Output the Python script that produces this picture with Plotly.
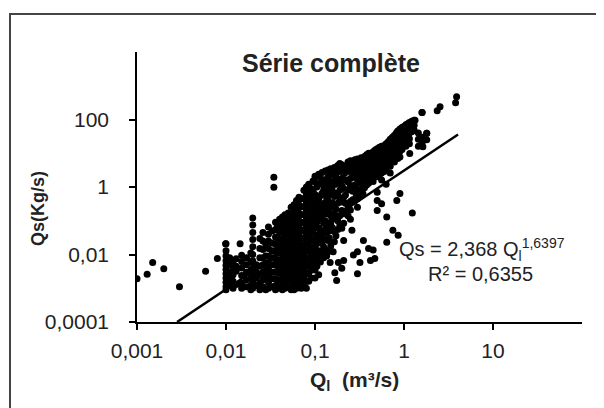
import plotly.graph_objects as go

# isolated points at very low discharge
q_tail = [0.001, 0.0013, 0.0015, 0.002, 0.003, 0.0059, 0.008, 0.0099, 0.0144]
qs_tail = [0.0019, 0.0026, 0.0058, 0.0038, 0.0011, 0.0032, 0.0076, 0.021, 0.021]

# dense part of the cloud, read column by column (discharge -> sediment fluxes)
col_q = [0.010, 0.011, 0.012, 0.013, 0.015, 0.017, 0.019, 0.020, 0.022, 0.024,
         0.026, 0.028, 0.030, 0.033, 0.036, 0.038, 0.040, 0.043, 0.046, 0.050,
         0.054, 0.058, 0.062, 0.066, 0.070, 0.075, 0.080, 0.085, 0.090, 0.095,
         0.100, 0.105, 0.110, 0.115, 0.120, 0.125, 0.130, 0.135, 0.140, 0.145,
         0.150, 0.157, 0.165, 0.172, 0.180, 0.190, 0.200, 0.210, 0.220, 0.235,
         0.250, 0.265, 0.280, 0.290, 0.300, 0.315, 0.330, 0.345, 0.360, 0.380,
         0.400, 0.420, 0.450, 0.475, 0.500, 0.530, 0.560, 0.600, 0.630, 0.665,
         0.700, 0.740, 0.780, 0.820, 0.850, 0.900, 0.950, 1.000, 1.050, 1.100,
         1.150, 1.220, 1.300, 1.450, 1.600, 1.800]
col_qs = [
    [0.021, 0.013, 0.009, 0.0065, 0.0048, 0.0036, 0.0027, 0.002, 0.0015, 0.0011, 0.0009],
    [0.008, 0.005, 0.003, 0.0019, 0.0012],
    [0.006, 0.004, 0.0025, 0.0016, 0.001],
    [0.0075, 0.0045, 0.0032, 0.0013],
    [0.0095, 0.0062, 0.004, 0.0024, 0.0014, 0.001],
    [0.008, 0.005, 0.003, 0.0018, 0.0011],
    [0.011, 0.006, 0.0035, 0.002, 0.0012, 0.0009],
    [0.12, 0.075, 0.045, 0.028, 0.017, 0.01, 0.0065, 0.004, 0.0025, 0.0016, 0.001],
    [0.005, 0.003, 0.002, 0.0012],
    [0.03, 0.015, 0.008, 0.0045, 0.0026, 0.0014, 0.0009],
    [0.045, 0.025, 0.014, 0.008, 0.005, 0.003, 0.0018, 0.0011],
    [0.02, 0.009, 0.0055, 0.0035, 0.0021, 0.0009],
    [0.065, 0.04, 0.025, 0.015, 0.009, 0.0058, 0.0037, 0.0024, 0.0015, 0.001],
    [0.05, 0.022, 0.013, 0.008, 0.005, 0.003, 0.0019, 0.0011],
    [0.09, 0.055, 0.033, 0.02, 0.012, 0.0075, 0.0048, 0.003, 0.0019, 0.0012, 0.0009],
    [0.07, 0.03, 0.015, 0.006, 0.0032, 0.0017, 0.001],
    [0.11, 0.07, 0.045, 0.028, 0.018, 0.011, 0.007, 0.0045, 0.0028, 0.0018, 0.0011],
    [0.13, 0.08, 0.05, 0.03, 0.019, 0.012, 0.0075, 0.0048, 0.003, 0.0019, 0.0012, 0.0009],
    [0.15, 0.1, 0.06, 0.038, 0.024, 0.015, 0.0095, 0.006, 0.0038, 0.0024, 0.0015, 0.001],
    [0.17, 0.11, 0.07, 0.045, 0.028, 0.018, 0.011, 0.007, 0.0045, 0.0028, 0.0018, 0.0011],
    [0.25, 0.15, 0.09, 0.055, 0.034, 0.021, 0.013, 0.008, 0.005, 0.0032, 0.002, 0.0012, 0.0009],
    [0.3, 0.18, 0.11, 0.065, 0.04, 0.025, 0.015, 0.0095, 0.006, 0.0037, 0.0023, 0.0014, 0.0009],
    [0.4, 0.22, 0.13, 0.08, 0.048, 0.03, 0.018, 0.011, 0.0068, 0.0042, 0.0026, 0.0016, 0.001],
    [0.5, 0.3, 0.17, 0.1, 0.06, 0.036, 0.022, 0.013, 0.008, 0.005, 0.003, 0.0019, 0.0011],
    [0.45, 0.26, 0.15, 0.09, 0.052, 0.031, 0.019, 0.011, 0.0068, 0.0042, 0.0026, 0.0015, 0.001],
    [0.8, 0.45, 0.26, 0.15, 0.085, 0.05, 0.03, 0.017, 0.01, 0.006, 0.0036, 0.0022, 0.0013],
    [1.0, 0.6, 0.35, 0.2, 0.11, 0.065, 0.038, 0.022, 0.013, 0.0075, 0.0045, 0.0027, 0.0016, 0.001],
    [1.2, 0.7, 0.4, 0.23, 0.13, 0.075, 0.043, 0.025, 0.014, 0.008, 0.0047, 0.0028, 0.0016],
    [0.9, 0.5, 0.28, 0.16, 0.09, 0.052, 0.03, 0.017, 0.01, 0.0058, 0.0034, 0.002],
    [1.5, 0.8, 0.45, 0.25, 0.14, 0.08, 0.045, 0.026, 0.015, 0.0085, 0.005],
    [2.1, 1.4, 0.6, 0.33, 0.2, 0.13, 0.07, 0.028, 0.016, 0.011, 0.006, 0.0035, 0.002],
    [1.0, 0.5, 0.17, 0.09, 0.038, 0.021, 0.009, 0.0045],
    [2.4, 1.2, 0.42, 0.24, 0.11, 0.06, 0.033, 0.013, 0.0075, 0.0025],
    [1.9, 0.55, 0.3, 0.15, 0.05, 0.025, 0.012, 0.006],
    [2.7, 1.6, 0.65, 0.2, 0.12, 0.04, 0.022, 0.0095],
    [1.1, 0.8, 0.26, 0.085, 0.03, 0.017, 0.008],
    [3.0, 1.3, 0.35, 0.19, 0.1, 0.055, 0.014],
    [1.7, 0.9, 0.5, 0.16, 0.075, 0.045, 0.009],
    [3.2, 2.0, 0.7, 0.4, 0.23, 0.068, 0.026, 0.012],
    [1.5, 0.95, 0.32, 0.18, 0.05, 0.031],
    [3.5, 2.3, 1.3, 0.6, 0.25, 0.14, 0.08, 0.018],
    [2.9, 1.05, 0.75, 0.34, 0.11, 0.062],
    [3.8, 2.6, 1.5, 0.52, 0.29, 0.16, 0.048, 0.024],
    [2.0, 1.2, 0.65, 0.22, 0.125, 0.036],
    [4.3, 2.8, 1.7, 0.57, 0.33, 0.1, 0.055],
    [5.0, 3.5, 1.35, 0.8, 0.46, 0.14, 0.075],
    [4.6, 3.0, 1.8, 1.1, 0.36, 0.2, 0.06],
    [3.8, 2.5, 0.9, 0.5, 0.16, 0.085],
    [4.2, 2.7, 1.65, 0.58, 0.33, 0.19],
    [5.5, 3.6, 1.4, 0.82, 0.26, 0.14],
    [6.0, 4.4, 2.9, 1.8, 1.1, 0.37, 0.21, 0.11],
    [5.3, 3.4, 2.1, 0.75, 0.42],
    [6.4, 4.6, 3.0, 1.9, 1.15, 0.39],
    [3.8, 2.4, 0.9, 0.52],
    [6.8, 4.9, 3.3, 1.3, 0.78, 0.45, 0.25],
    [6.0, 4.0, 2.6, 1.6, 0.55],
    [7.4, 5.2, 3.5, 2.3, 1.4, 0.85],
    [6.5, 4.4, 2.9, 1.1, 0.64],
    [8.0, 5.8, 3.9, 2.5, 1.55, 0.95],
    [9.0, 6.6, 4.5, 3.0, 1.9, 1.15],
    [10.0, 7.3, 5.0, 3.3, 2.1, 1.3],
    [8.4, 5.7, 3.8, 2.4, 1.5],
    [11.0, 8.0, 5.5, 3.6, 2.3, 1.45],
    [12.5, 9.0, 6.2, 4.1, 2.7],
    [13.5, 10.0, 7.0, 4.7, 3.1, 2.0, 0.7, 0.4, 0.2],
    [15.0, 11.0, 7.8, 5.3, 3.5, 2.3],
    [16.0, 12.0, 8.5, 5.9, 4.0, 2.6, 1.6],
    [17.0, 13.0, 9.3, 6.5, 4.4, 2.9],
    [19.0, 14.0, 10.0, 7.0, 4.8, 3.2, 1.2],
    [22.0, 16.0, 11.5, 8.0, 5.4],
    [26.0, 18.5, 13.0, 9.0, 6.2, 4.1, 2.6],
    [30.0, 21.0, 15.0, 10.5, 7.2],
    [34.0, 24.0, 17.0, 12.0, 8.2, 5.5],
    [40.0, 28.0, 19.5, 13.5, 9.3],
    [46.0, 32.0, 22.0, 15.0, 10.5, 7.0],
    [52.0, 36.0, 25.0, 17.0, 11.5],
    [58.0, 40.0, 28.0, 19.0, 13.0],
    [62.0, 44.0, 31.0, 21.0],
    [70.0, 48.0, 33.0, 23.0, 16.0],
    [75.0, 52.0, 36.0],
    [82.0, 58.0, 40.0, 27.0, 19.0],
    [88.0, 62.0, 43.0],
    [95.0, 68.0, 48.0],
    [40.0, 26.0, 16.0],
    [160.0, 30.0, 21.0],
    [39.0, 25.0],
]

# scattered points below the main band
q_low = [1.24, 0.86, 0.75, 0.64, 0.35, 0.40, 0.45, 0.47, 0.42, 0.30, 0.27, 0.32,
         0.16, 0.148, 0.183, 0.21, 0.20, 0.167, 0.175, 0.30, 0.21, 0.26, 0.56,
         0.83, 0.9, 0.64, 0.0345, 0.0345]
qs_low = [0.17, 0.037, 0.052, 0.023, 0.026, 0.015, 0.0135, 0.0076, 0.0066, 0.0121,
          0.0097, 0.0058, 0.012, 0.0058, 0.0058, 0.0066, 0.0039, 0.0029, 0.0017,
          0.0027, 0.026, 0.052, 0.32, 0.4, 0.64, 0.13, 1.95, 0.99]

# highest floods
q_top = [3.9, 3.8, 2.54, 2.36, 1.59, 1.8, 1.63, 1.33, 0.98, 1.16, 0.9]
qs_top = [470, 313, 238, 181, 162, 39, 15.6, 95, 60, 9.9, 7.8]

# power-law fit, as drawn
trend_q = [0.00282, 4.05]
trend_qs = [0.0001, 35.9]

xs = list(q_tail) + list(q_low) + list(q_top)
ys = list(qs_tail) + list(qs_low) + list(qs_top)
for q, vals in zip(col_q, col_qs):
    xs += [q] * len(vals)
    ys += vals

fig = go.Figure()
fig.add_trace(go.Scatter(
    x=xs, y=ys, mode='markers',
    marker=dict(color='black', size=7, line=dict(width=0)),
    showlegend=False, hoverinfo='skip'
))
fig.add_trace(go.Scatter(
    x=trend_q, y=trend_qs, mode='lines',
    line=dict(color='black', width=2.5),
    showlegend=False, hoverinfo='skip'
))

font_main = 'Liberation Sans, Arial, sans-serif'
txt = '#222'

# the page body adds 8px, so the figure is a bit smaller than the window
fig.update_layout(
    width=596, height=400,
    margin=dict(l=129, r=22, t=44, b=86),
    plot_bgcolor='white',
    paper_bgcolor='white',
    font=dict(family=font_main, color=txt, size=21),
    xaxis=dict(
        type='log', range=[-3, 2],
        tickvals=[0.001, 0.01, 0.1, 1, 10],
        ticktext=['0,001', '0,01', '0,1', '1', '10'],
        showgrid=False, zeroline=False,
        showline=True, linecolor='black', linewidth=1.5,
        ticks='outside', ticklen=6, tickcolor='black', tickwidth=1.5,
        ticklabelstandoff=3,
    ),
    yaxis=dict(
        type='log', range=[-4, 4],
        tickvals=[0.0001, 0.01, 1, 100],
        ticktext=['0,0001', '0,01', '1', '100'],
        showgrid=False, zeroline=False,
        showline=True, linecolor='black', linewidth=1.5,
        ticks='outside', ticklen=6, tickcolor='black', tickwidth=1.5,
        ticklabelstandoff=16,
    ),
    shapes=[dict(
        type='rect', xref='paper', yref='paper',
        x0=-0.2854, x1=1.3, y0=-0.6, y1=1.1407,
        line=dict(color='#444', width=2), fillcolor='rgba(0,0,0,0)',
        layer='below'
    )],
    annotations=[
        dict(text='<b>Série complète</b>', x=0.436, y=0.959,
             xref='paper', yref='paper', showarrow=False,
             xanchor='center', yanchor='middle',
             font=dict(size=25, color=txt)),
        dict(text='<b>Qs(Kg/s)</b>', x=-0.2225, y=0.422,
             xref='paper', yref='paper', showarrow=False, textangle=-90,
             xanchor='center', yanchor='middle',
             font=dict(size=18, color=txt)),
        dict(text='<b>Q<sub>l</sub>  (m³/s)</b>', x=0.488, y=-0.2185,
             xref='paper', yref='paper', showarrow=False,
             xanchor='center', yanchor='middle',
             font=dict(size=21, color=txt)),
        dict(text='Qs = 2,368 Q<sub>l</sub><sup>1,6397</sup>', x=0.775, y=0.27,
             xref='paper', yref='paper', showarrow=False,
             xanchor='center', yanchor='middle',
             font=dict(size=20, color=txt)),
        dict(text='R² = 0,6355', x=0.773, y=0.176,
             xref='paper', yref='paper', showarrow=False,
             xanchor='center', yanchor='middle',
             font=dict(size=20, color=txt)),
    ],
)

fig.write_html("out.html")
